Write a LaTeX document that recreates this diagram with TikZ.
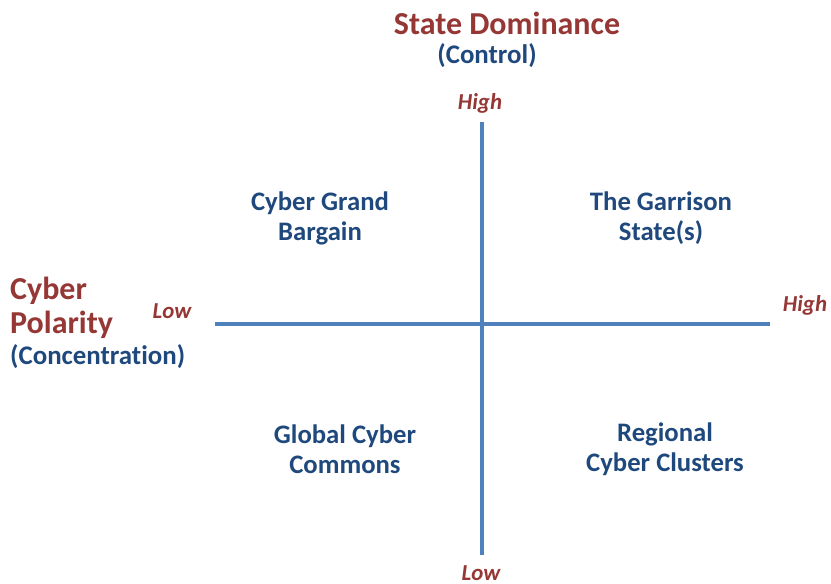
\documentclass[tikz,border=0pt]{standalone}
\usepackage{fontspec}
\setmainfont{Carlito}[Ligatures=NoCommon]
\usepackage{tikz}
\definecolor{axisred}{HTML}{953735}
\definecolor{textblue}{HTML}{1F497D}
\definecolor{lineblue}{HTML}{4F81BD}
\tikzset{
  heading/.style={text=axisred,font=\bfseries\fontsize{18.2}{19}\selectfont},
  subheading/.style={text=textblue,font=\bfseries\fontsize{15.3}{17}\selectfont},
  scale label/.style={text=axisred,font=\bfseries\itshape\fontsize{13}{14}\selectfont},
  quadrant/.style={text=textblue,align=center,font=\bfseries\fontsize{15.2}{17}\selectfont},
  axis line/.style={lineblue,line width=2.2pt}
}

\begin{document}
\begin{tikzpicture}[x=0.02cm,y=-0.02cm]
\useasboundingbox (0,0) rectangle (831,584);
% axes
\coordinate (top) at (482,122);
\coordinate (bottom) at (482,555);
\coordinate (left) at (215,324);
\coordinate (right) at (770,324);
\draw[axis line] (left) -- (right);
\draw[axis line] (top) -- (bottom);
% vertical axis labels
\node[heading] (dominance) at (507,23) {State Dominance};
\node[subheading] (control) at (487,56) {(Control)};
\node[scale label] (vhigh) at (480,103) {High};
\node[scale label] (vlow) at (481,573) {Low};
% horizontal axis labels
\node[heading,anchor=west,align=left,font=\bfseries\fontsize{18.2}{19.5}\selectfont] (polarity) at (4,308) {Cyber\\Polarity};
\node[subheading,anchor=west] (concentration) at (4,357) {(Concentration)};
\node[scale label] (hlow) at (172,311) {Low};
\node[scale label] (hhigh) at (805,305) {High};
% quadrants
\node[quadrant] (bargain) at (320,218) {Cyber Grand\\Bargain};
\node[quadrant] (garrison) at (661,218) {The Garrison\\State(s)};
\node[quadrant] (commons) at (345,449) {Global Cyber\\Commons};
\node[quadrant] (clusters) at (665,449) {Regional\\Cyber Clusters};
\end{tikzpicture}
\end{document}
